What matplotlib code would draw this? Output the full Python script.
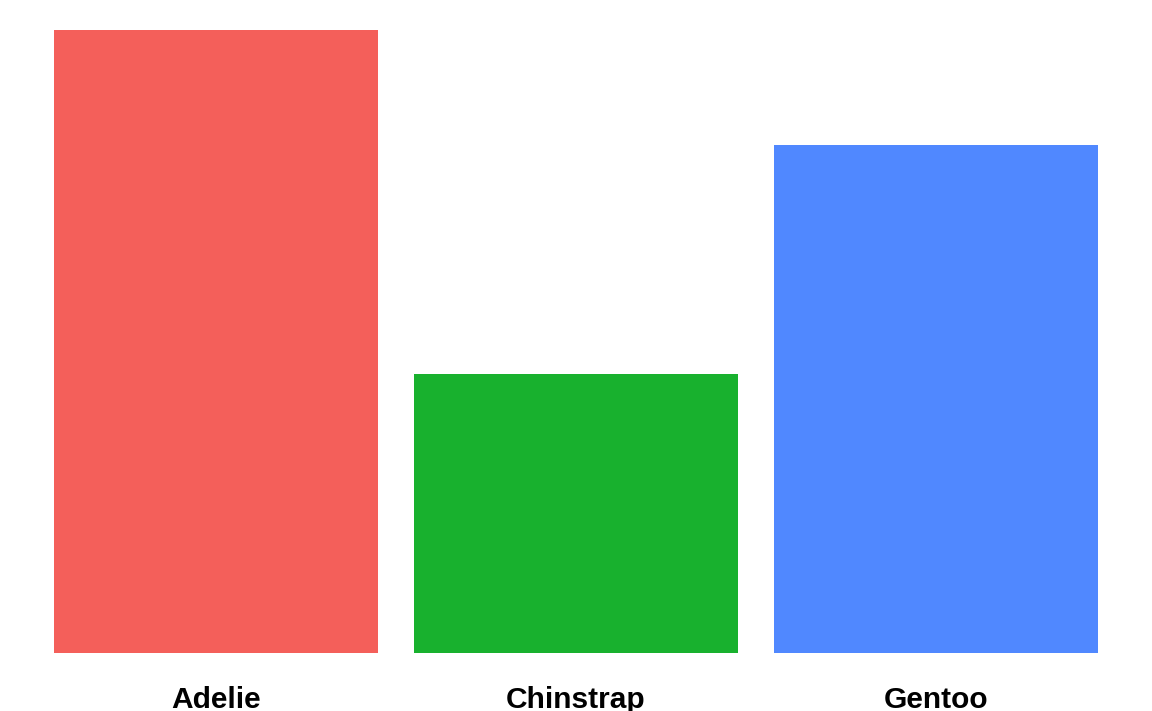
import matplotlib
matplotlib.use("Agg")
import matplotlib.pyplot as plt

species = ["Adelie", "Chinstrap", "Gentoo"]
counts = [152, 68, 124]
colors = ["#F45F5A", "#18B12E", "#5088FF"]

fig = plt.figure(figsize=(11.52, 7.11), dpi=100)
ax = fig.add_axes([0, 58 / 711, 1, 653 / 711])

x = range(len(species))
ax.bar(x, counts, width=0.9, color=colors)
ax.set_xlim(-0.6, 2.6)
ax.set_ylim(0, max(counts) * 1.048)

ax.set_xticks(list(x))
ax.set_xticklabels(species, fontsize=21.5, fontweight="bold",
                   family=["Liberation Sans", "DejaVu Sans"])
ax.tick_params(axis="x", length=0, pad=23.5)
ax.set_yticks([])
for s in ax.spines.values():
    s.set_visible(False)

fig.savefig("out.png", dpi=100)
